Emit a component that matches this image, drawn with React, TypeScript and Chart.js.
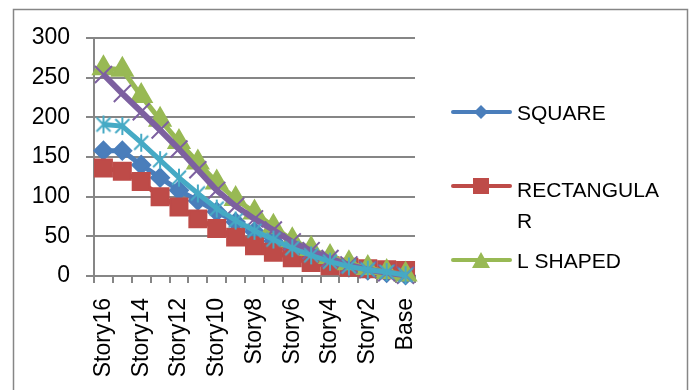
import React, { useEffect, useRef } from "react";
import { Chart, registerables } from "chart.js";

Chart.register(...registerables);

const categories = [
  "Story16", "Story15", "Story14", "Story13", "Story12", "Story11", "Story10", "Story9",
  "Story8", "Story7", "Story6", "Story5", "Story4", "Story3", "Story2", "Story1", "Base",
];
const yTicks = [0, 50, 100, 150, 200, 250, 300];

const squareValues = [158, 158, 140, 124, 108, 95, 81, 68, 56, 44, 33, 24, 17, 11, 7, 4, 1];
const rectangularValues = [136, 132, 119, 100, 87, 72, 60, 49, 38, 30, 23, 17, 13, 11, 9, 8, 7];
const lShapedValues = [262, 260, 227, 197, 169, 143, 118, 97, 80, 62, 45, 34, 24, 16, 10, 5, 2];
const series4Values = [254, 230, 207, 184, 160, 134, 108, 88, 72, 58, 43, 32, 22, 14, 8, 4, 1];
const series5Values = [191, 189, 168, 146, 124, 104, 85, 70, 57, 46, 35, 26, 18, 12, 8, 5, 1];

const legendNames = ["SQUARE", "RECTANGULAR", "L SHAPED"];

const BLUE = "#4A7EBB";
const RED = "#BE4B48";
const GREEN = "#98B954";
const PURPLE = "#7D60A0";
const CYAN = "#46AAC5";
const GRID = "#868686";
const FONT = "'Liberation Sans', Arial, sans-serif";

function makeAsterisk(color: string): HTMLCanvasElement {
  const c = document.createElement("canvas");
  c.width = 20;
  c.height = 20;
  const g = c.getContext("2d")!;
  g.strokeStyle = color;
  g.lineWidth = 2;
  g.beginPath();
  g.moveTo(10, 1);
  g.lineTo(10, 19);
  g.moveTo(3, 3);
  g.lineTo(17, 17);
  g.moveTo(17, 3);
  g.lineTo(3, 17);
  g.stroke();
  return c;
}

const framePlugin = {
  id: "frame",
  beforeDraw(chart: any) {
    const ctx = chart.ctx;
    ctx.save();
    ctx.fillStyle = "#fff";
    ctx.fillRect(0, 0, chart.width, chart.height);
    ctx.strokeStyle = GRID;
    ctx.lineWidth = 1.5;
    ctx.strokeRect(13.5, 9.5, 674, 400);
    ctx.restore();
  },
  afterDraw(chart: any) {
    const ctx = chart.ctx;
    ctx.save();
    const x0 = 453;
    const x1 = 510;
    const mx = 481;
    const tx = 517;
    const drawLine = (y: number, color: string) => {
      ctx.strokeStyle = color;
      ctx.lineWidth = 4;
      ctx.lineCap = "round";
      ctx.beginPath();
      ctx.moveTo(x0, y);
      ctx.lineTo(x1, y);
      ctx.stroke();
    };
    // SQUARE
    drawLine(112, BLUE);
    ctx.fillStyle = BLUE;
    ctx.beginPath();
    ctx.moveTo(mx - 7, 112);
    ctx.lineTo(mx, 105);
    ctx.lineTo(mx + 7, 112);
    ctx.lineTo(mx, 119);
    ctx.closePath();
    ctx.fill();
    // RECTANGULAR
    drawLine(186, RED);
    ctx.fillStyle = RED;
    ctx.fillRect(mx - 8, 178, 16, 16);
    // L SHAPED
    drawLine(260, GREEN);
    ctx.fillStyle = GREEN;
    ctx.beginPath();
    ctx.moveTo(mx, 252);
    ctx.lineTo(mx + 9, 268);
    ctx.lineTo(mx - 9, 268);
    ctx.closePath();
    ctx.fill();

    ctx.fillStyle = "#000";
    ctx.font = `21px ${FONT}`;
    ctx.textBaseline = "middle";
    ctx.textAlign = "left";
    ctx.fillText(legendNames[0], tx, 114);
    ctx.fillText(legendNames[1].slice(0, 10), tx, 191);
    ctx.fillText(legendNames[1].slice(10), tx, 222);
    ctx.fillText(legendNames[2], tx, 262);
    ctx.restore();
  },
};

export default function App() {
  const ref = useRef<HTMLCanvasElement>(null);

  useEffect(() => {
    document.body.style.margin = "0";
    const asterisk = makeAsterisk(CYAN);
    const common = {
      borderWidth: 5,
      tension: 0,
      clip: false as any,
      pointBorderWidth: 2,
    };
    const chart = new Chart(ref.current!, {
      type: "line",
      data: {
        labels: categories,
        datasets: [
          {
            ...common,
            label: legendNames[0],
            data: squareValues,
            borderColor: BLUE,
            backgroundColor: BLUE,
            pointBackgroundColor: BLUE,
            pointBorderColor: BLUE,
            pointStyle: "rectRot",
            pointRadius: 9,
            order: 5,
          },
          {
            ...common,
            label: legendNames[1],
            data: rectangularValues,
            borderColor: RED,
            backgroundColor: RED,
            pointBackgroundColor: RED,
            pointBorderColor: RED,
            pointStyle: "rect",
            pointRadius: 12,
            order: 4,
          },
          {
            ...common,
            label: legendNames[2],
            data: lShapedValues,
            borderColor: GREEN,
            backgroundColor: GREEN,
            pointBackgroundColor: GREEN,
            pointBorderColor: GREEN,
            pointStyle: "triangle",
            pointRadius: 12,
            order: 3,
          },
          {
            ...common,
            label: "Series4",
            data: series4Values,
            borderColor: PURPLE,
            backgroundColor: PURPLE,
            pointBackgroundColor: PURPLE,
            pointBorderColor: PURPLE,
            pointStyle: "crossRot",
            pointRadius: 12,
            borderWidth: 6,
            order: 2,
          },
          {
            ...common,
            label: "Series5",
            data: series5Values,
            borderColor: CYAN,
            backgroundColor: CYAN,
            pointBackgroundColor: CYAN,
            pointBorderColor: CYAN,
            pointStyle: asterisk as any,
            pointRadius: 10,
            order: 1,
          },
        ],
      },
      options: {
        responsive: false,
        animation: false,
        events: [],
        layout: { padding: { top: 38, right: 277, bottom: 0, left: 0 } },
        plugins: {
          legend: { display: false },
          tooltip: { enabled: false },
        },
        scales: {
          x: {
            type: "category",
            offset: true,
            grid: {
              display: true,
              drawOnChartArea: false,
              drawTicks: true,
              tickLength: 7,
              color: GRID,
              lineWidth: 2,
              offset: true,
            },
            border: { display: true, color: GRID, width: 2 },
            ticks: {
              autoSkip: false,
              maxRotation: 90,
              minRotation: 90,
              padding: 15,
              color: "#000",
              font: { family: FONT, size: 23 },
              callback: (_v: any, i: number) => (i % 2 === 0 ? categories[i] : ""),
            },
            afterFit: (s: any) => {
              s.height = 114;
            },
          },
          y: {
            min: yTicks[0],
            max: yTicks[yTicks.length - 1],
            afterBuildTicks: (s: any) => {
              s.ticks = yTicks.map((v) => ({ value: v }));
            },
            grid: { color: GRID, lineWidth: 2, tickLength: 8 },
            border: { display: true, color: GRID, width: 2 },
            ticks: {
              padding: 16,
              color: "#000",
              font: { family: FONT, size: 23 },
            },
            afterFit: (s: any) => {
              s.width = 94;
            },
          },
        },
      },
      plugins: [framePlugin],
    });
    return () => chart.destroy();
  }, []);

  return (
    <div style={{ width: 692, height: 390, position: "relative", background: "#fff" }}>
      <canvas ref={ref} width={692} height={390} style={{ display: "block" }} />
    </div>
  );
}
